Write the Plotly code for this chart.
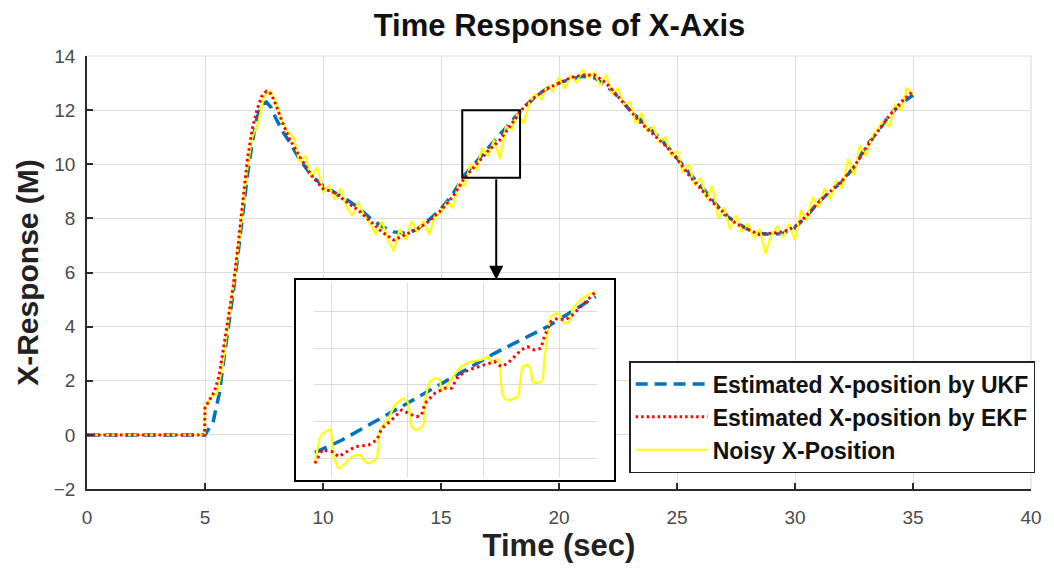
import plotly.graph_objects as go

# ---------------- main series ----------------
t_ukf = [0, 5.0, 5.35, 5.6, 5.8, 6.0, 6.2, 6.4, 6.6, 6.8, 7.0, 7.2, 7.4, 7.6, 7.8, 8.0, 8.3, 8.6,
         9.0, 9.5, 10, 10.5, 11, 11.5, 12, 12.5, 13, 13.5, 14, 14.5, 15, 15.5, 16, 16.5, 17, 17.5,
         18, 18.5, 19, 19.5, 20, 20.5, 21, 21.5, 22, 22.5, 23, 23.5, 24, 24.5, 25, 25.5, 26, 26.5,
         27, 27.5, 28, 28.5, 29, 29.5, 30, 30.5, 31, 31.5, 32, 32.5, 33, 33.5, 34, 34.5, 35]
x_ukf = [0, 0, 0.5, 1.5, 2.8, 4.0, 5.3, 6.7, 8.2, 9.6, 10.8, 11.7, 12.2, 12.3, 12.1, 11.7, 11.2, 10.8,
         10.2, 9.6, 9.2, 8.95, 8.7, 8.4, 8.0, 7.7, 7.5, 7.45, 7.6, 7.95, 8.35, 8.9, 9.6, 10.1, 10.6, 11.1,
         11.6, 12.1, 12.5, 12.8, 13.0, 13.15, 13.25, 13.2, 12.9, 12.5, 12.0, 11.6, 11.2, 10.75, 10.2, 9.7,
         9.2, 8.7, 8.15, 7.85, 7.6, 7.45, 7.4, 7.45, 7.65, 8.1, 8.6, 9.0, 9.35, 9.9, 10.65, 11.2, 11.8,
         12.25, 12.55]

t_ekf = [0, 4.98, 5.0, 5.2, 5.4, 5.6, 5.8, 6.0, 6.2, 6.4, 6.6, 6.8, 7.0, 7.2, 7.4, 7.6, 7.8, 8.0, 8.3,
         8.6, 9.0, 9.5, 10, 10.5, 11, 11.5, 12, 12.5, 13, 13.5, 14, 14.5, 15, 15.5, 16, 16.5, 17, 17.5,
         18, 18.5, 19, 19.5, 20, 20.5, 21, 21.5, 22, 22.5, 23, 23.5, 24, 24.5, 25, 25.5, 26, 26.5, 27,
         27.5, 28, 28.5, 29, 29.5, 30, 30.5, 31, 31.5, 32, 32.5, 33, 33.5, 34, 34.5, 35]
x_ekf = [0, 0, 1.0, 1.3, 1.6, 2.2, 3.3, 4.3, 5.5, 7.0, 8.6, 10.2, 11.3, 12.0, 12.5, 12.7, 12.6, 12.2,
         11.5, 10.9, 10.3, 9.6, 9.1, 8.95, 8.6, 8.3, 7.9, 7.5, 7.2, 7.4, 7.6, 7.9, 8.3, 8.8, 9.5, 10.0,
         10.5, 10.9, 11.5, 12.1, 12.5, 12.8, 13.0, 13.2, 13.3, 13.3, 13.0, 12.5, 12.0, 11.5, 11.1, 10.7,
         10.2, 9.6, 9.1, 8.6, 8.2, 7.8, 7.6, 7.4, 7.45, 7.5, 7.7, 8.1, 8.6, 9.0, 9.4, 9.9, 10.6, 11.2,
         11.8, 12.3, 12.7]

t_noisy = [0, 4.98, 5.0, 5.25, 5.5, 5.75, 6.0, 6.25, 6.5, 6.75, 7.0, 7.25, 7.5, 7.75, 8.0, 8.25, 8.5,
           8.75, 9.0, 9.25, 9.5, 9.75, 10.0, 10.25, 10.5, 10.75, 11.0, 11.25, 11.5, 11.75, 12.0, 12.25,
           12.5, 12.75, 13.0, 13.25, 13.5, 13.75, 14.0, 14.25, 14.5, 14.75, 15.0, 15.25, 15.5, 15.75,
           16.0, 16.25, 16.5, 16.75, 17.0, 17.25, 17.5, 17.75, 18.0, 18.25, 18.5, 18.75, 19.0, 19.25,
           19.5, 19.75, 20.0, 20.25, 20.5, 20.75, 21.0, 21.25, 21.5, 21.75, 22.0, 22.25, 22.5, 22.75,
           23.0, 23.25, 23.5, 23.75, 24.0, 24.25, 24.5, 24.75, 25.0, 25.25, 25.5, 25.75, 26.0, 26.25,
           26.5, 26.75, 27.0, 27.25, 27.5, 27.75, 28.0, 28.25, 28.5, 28.75, 29.0, 29.25, 29.5, 29.75,
           30.0, 30.25, 30.5, 30.75, 31.0, 31.25, 31.5, 31.75, 32.0, 32.25, 32.5, 32.75, 33.0, 33.25,
           33.5, 33.75, 34.0, 34.25, 34.5, 34.75, 35.0]
x_noisy = [0, 0, 1.0, 1.4, 1.5, 2.6, 4.3, 5.8, 7.6, 9.6, 11.0, 11.5, 12.5, 12.7, 12.3, 11.6, 11.2,
           11.0, 10.1, 10.3, 9.5, 9.9, 9.0, 9.2, 8.7, 9.1, 8.4, 8.1, 8.6, 8.1, 7.8, 7.4,
           7.9, 7.2, 6.8, 7.6, 7.2, 7.9, 7.5, 7.9, 7.4, 8.1, 8.2, 8.6, 8.4, 9.3,
           9.2, 10.0, 9.8, 10.6, 10.3, 10.9, 10.2, 11.4, 11.3, 11.9, 11.5, 12.3, 12.6, 12.4,
           12.9, 12.7, 13.2, 12.8, 13.3, 13.0, 13.5, 13.2, 13.4, 12.9, 13.3, 12.6, 12.8, 12.2,
           12.3, 11.5, 11.9, 11.2, 11.4, 10.8, 11.0, 10.3, 10.5, 9.7, 10.0, 9.2, 9.5, 8.7,
           9.2, 8.0, 8.4, 7.6, 8.1, 7.5, 7.8, 7.3, 7.6, 6.7, 7.4, 7.7, 7.3, 7.8,
           7.2, 8.3, 7.9, 8.8, 8.4, 9.1, 8.7, 9.4, 9.1, 10.2, 9.6, 10.7, 10.3, 11.0,
           11.3, 11.6, 11.4, 12.2, 12.0, 12.8, 12.6]

# ---------------- inset (zoomed) series ----------------
ti_ukf = [15.909, 16.144, 16.631, 17.061, 17.462, 17.920, 18.336]
xi_ukf = [9.651, 9.834, 10.291, 10.700, 11.085, 11.470, 11.903]

ti_ekf = [15.909, 15.972, 16.058, 16.115, 16.258, 16.373, 16.444, 16.487, 16.573, 16.659, 16.717,
          16.788, 16.831, 16.860, 16.946, 17.032, 17.089, 17.147, 17.233, 17.318, 17.404, 17.462,
          17.519, 17.576, 17.634, 17.691, 17.748, 17.806, 17.863, 17.892, 17.949, 18.006, 18.064,
          18.121, 18.207, 18.293, 18.336]
xi_ekf = [9.497, 9.690, 9.666, 9.594, 9.738, 9.762, 9.834, 10.002, 10.123, 10.267, 10.219,
          10.171, 10.195, 10.363, 10.508, 10.580, 10.580, 10.748, 10.844, 10.893, 10.941, 10.965,
          10.893, 10.941, 11.037, 11.133, 11.181, 11.133, 11.157, 11.325, 11.542, 11.590, 11.566,
          11.614, 11.758, 11.903, 11.975]

ti_noisy = [15.909, 15.957, 16.000, 16.043, 16.072, 16.115, 16.172, 16.230, 16.301, 16.330, 16.373,
            16.444, 16.473, 16.545, 16.602, 16.674, 16.717, 16.745, 16.788, 16.846, 16.860, 16.903,
            16.960, 16.989, 17.003, 17.046, 17.104, 17.175, 17.261, 17.347, 17.404, 17.433, 17.476,
            17.505, 17.519, 17.548, 17.591, 17.662, 17.705, 17.748, 17.777, 17.791, 17.834, 17.877,
            17.892, 17.949, 18.006, 18.035, 18.064, 18.107, 18.150, 18.207, 18.264, 18.336]
xi_noisy = [9.497, 9.882, 9.954, 9.978, 9.594, 9.425, 9.497, 9.594, 9.618, 9.545, 9.497,
            9.569, 9.978, 10.147, 10.339, 10.435, 10.363, 10.026, 9.978, 10.050, 10.363, 10.676,
            10.724, 10.700, 10.555, 10.604, 10.748, 10.893, 10.965, 10.989, 11.037, 10.965, 10.998,
            10.989, 10.628, 10.435, 10.411, 10.459, 10.893, 10.917, 10.844, 10.676, 10.652, 10.700,
            10.989, 11.614, 11.662, 11.614, 11.518, 11.542, 11.758, 11.854, 11.927, 11.975]

names = ["Estimated X-position by UKF", "Estimated X-position by EKF", "Noisy X-Position"]
zoom_box_t = [15.9, 18.35]
zoom_box_x = [9.5, 12.0]
arrow_t = 17.34
arrow_tip_x = 5.73

BLUE = "#0072BD"
RED = "#FF0000"
YEL = "#FFFF00"
FONT = "Liberation Sans, Arial, Helvetica, sans-serif"

fig = go.Figure()

# main traces
fig.add_trace(go.Scatter(x=t_ukf, y=x_ukf, mode="lines", name=names[0], legendrank=1,
                         legendgroup="a", line=dict(color=BLUE, width=3.5, dash="12px,7px")))
fig.add_trace(go.Scatter(x=t_noisy, y=x_noisy, mode="lines", name=names[2], legendrank=3,
                         legendgroup="c", line=dict(color=YEL, width=2.2)))
fig.add_trace(go.Scatter(x=t_ekf, y=x_ekf, mode="lines", name=names[1], legendrank=2,
                         legendgroup="b", line=dict(color=RED, width=3, dash="2.5px,3px")))

# frame subplot (white background for inset)
fig.add_trace(go.Scatter(x=[None], y=[None], xaxis="x2", yaxis="y2", showlegend=False,
                         hoverinfo="skip"))
# inset traces
fig.add_trace(go.Scatter(x=ti_ukf, y=xi_ukf, xaxis="x3", yaxis="y3", mode="lines", showlegend=False,
                         line=dict(color=BLUE, width=3.5, dash="13px,7px")))
fig.add_trace(go.Scatter(x=ti_noisy, y=xi_noisy, xaxis="x3", yaxis="y3", mode="lines",
                         showlegend=False, line=dict(color=YEL, width=2.2, shape="spline",
                                                     smoothing=0.5)))
fig.add_trace(go.Scatter(x=ti_ekf, y=xi_ekf, xaxis="x3", yaxis="y3", mode="lines", showlegend=False,
                         line=dict(color=RED, width=3, dash="2.5px,3.5px")))

# geometry (pixels -> paper)
W, H = 1054, 574
ML, MR, MT, MB = 87, 18, 56, 85
PW, PH = W - ML - MR, H - MT - MB


def px2paper_x(px):
    return (px - ML) / PW


def py2paper_y(py):
    return (H - MB - py) / PH


GRID = "#DCDCDC"
AXC = "#2b2b2b"
TICKF = dict(family=FONT, size=19, color="#4a4a4a")

fig.update_layout(
    width=W, height=H,
    margin=dict(l=ML, r=MR, t=MT, b=MB),
    paper_bgcolor="white", plot_bgcolor="white",
    title=dict(text="<b>Time Response of X-Axis</b>", x=px2paper_x(562), xanchor="center",
               xref="paper", yref="container", y=1 - 25 / H, yanchor="middle",
               font=dict(family=FONT, size=31, color="#111111")),
    xaxis=dict(range=[0, 40], dtick=5, tick0=0, showgrid=True, gridcolor=GRID, gridwidth=1,
               showline=True, linecolor=AXC, linewidth=1.5, ticks="inside", ticklen=6,
               tickcolor=AXC, tickwidth=1.5, zeroline=False, tickfont=TICKF,
               ticklabelstandoff=10,
               title=dict(text="<b>Time (sec)</b>", standoff=8,
                          font=dict(family=FONT, size=31, color="#222222"))),
    yaxis=dict(range=[-2, 14], dtick=2, tick0=0, showgrid=True, gridcolor=GRID, gridwidth=1,
               showline=True, linecolor=AXC, linewidth=1.5, ticks="inside", ticklen=6,
               tickcolor=AXC, tickwidth=1.5, zeroline=False, tickfont=TICKF,
               ticklabelstandoff=6,
               title=dict(text="<b>X-Response (M)</b>", standoff=6,
                          font=dict(family=FONT, size=30, color="#222222"))),
    xaxis2=dict(domain=[px2paper_x(297), px2paper_x(617)], anchor="y2", range=[0, 1],
                showgrid=False, zeroline=False, showticklabels=False, ticks="",
                showline=True, mirror=True, linecolor="black", linewidth=2),
    yaxis2=dict(domain=[py2paper_y(480), py2paper_y(280)], anchor="x2", range=[0, 1],
                showgrid=False, zeroline=False, showticklabels=False, ticks="",
                showline=True, mirror=True, linecolor="black", linewidth=2),
    xaxis3=dict(domain=[px2paper_x(315), px2paper_x(600)], anchor="y3", range=[15.9, 18.35],
                tick0=16.055, dtick=0.656, showgrid=True, gridcolor=GRID, zeroline=False,
                showticklabels=False, ticks="", showline=False),
    yaxis3=dict(domain=[py2paper_y(477), py2paper_y(283)], anchor="x3", range=[9.3, 12.1],
                tick0=9.574, dtick=0.527, showgrid=True, gridcolor=GRID, zeroline=False,
                showticklabels=False, ticks="", showline=False),
    legend=dict(x=px2paper_x(632), y=py2paper_y(361), xanchor="left", yanchor="top",
                bgcolor="white", bordercolor="#222222", borderwidth=1.5,
                font=dict(family=FONT, size=23, color="#111111", weight="bold"),
                itemwidth=72, tracegroupgap=3, traceorder="normal"),
    showlegend=True,
)

# top/right light border lines
fig.add_shape(type="line", xref="paper", yref="paper", x0=0, x1=1, y0=1, y1=1,
              line=dict(color=GRID, width=1.2), layer="below")
fig.add_shape(type="line", xref="paper", yref="paper", x0=1, x1=1, y0=0, y1=1,
              line=dict(color=GRID, width=1.2), layer="below")

# zoom box on main plot
fig.add_shape(type="rect", xref="x", yref="y", x0=zoom_box_t[0], x1=zoom_box_t[1],
              y0=zoom_box_x[0], y1=zoom_box_x[1], line=dict(color="black", width=2),
              layer="above")
# arrow from zoom box to inset
fig.add_annotation(x=arrow_t, y=arrow_tip_x, ax=arrow_t, ay=zoom_box_x[0], xref="x", yref="y",
                   axref="x", ayref="y", text="", showarrow=True, arrowhead=2, arrowsize=1.4,
                   arrowwidth=2, arrowcolor="black")

fig.write_html("out.html", config={"displayModeBar": False})
